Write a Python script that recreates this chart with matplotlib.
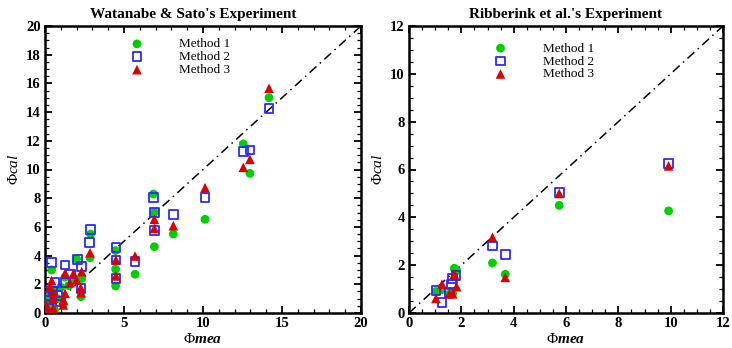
import matplotlib
matplotlib.use("Agg")
import matplotlib.pyplot as plt
from matplotlib.ticker import MultipleLocator

plt.rcParams['font.family'] = ['Liberation Serif', 'DejaVu Serif']
plt.rcParams['mathtext.fontset'] = 'custom'
plt.rcParams['mathtext.rm'] = 'Liberation Serif'
plt.rcParams['mathtext.it'] = 'Liberation Serif:italic'
plt.rcParams['mathtext.bf'] = 'Liberation Serif:bold'
plt.rcParams['mathtext.bfit'] = 'Liberation Serif:bold:italic'

# ---------------- Data: Watanabe & Sato ----------------
ws_m1_x = [0.1, 0.2, 0.3, 0.35, 0.42, 0.5, 0.6, 0.8, 1.0, 1.16, 1.27, 1.5, 1.8, 2.0, 2.28, 2.32,
           2.85, 2.89, 4.47, 4.47, 4.47, 5.7, 6.86, 6.92, 6.92, 8.12, 10.13, 12.55, 12.97, 14.18]
ws_m1_y = [0.3, 0.8, 1.2, 0.5, 3.0, 1.6, 0.2, 1.0, 1.8, 0.6, 2.5, 1.9, 2.3, 3.76, 1.14, 2.4,
           3.85, 5.5, 4.35, 3.05, 1.88, 2.7, 8.29, 7.0, 4.62, 5.5, 6.53, 11.78, 9.73, 15.0]

ws_m2_x = [0.1, 0.1, 0.2, 0.3, 0.42, 0.63, 0.5, 0.8, 1.27, 1.27, 1.0, 1.62, 2.05, 2.32, 2.28,
           2.8, 2.89, 4.49, 4.49, 4.49, 5.7, 6.86, 6.92, 6.92, 8.12, 10.13, 12.55, 12.97, 14.18]
ws_m2_y = [1.48, 1.14, 0.6, 0.9, 3.53, 2.1, 1.5, 1.2, 3.35, 2.11, 0.8, 2.72, 3.74, 3.23, 1.72,
           4.9, 5.83, 4.58, 3.69, 2.42, 3.6, 8.06, 6.99, 5.74, 6.88, 8.06, 11.24, 11.36, 14.26]

ws_m3_x = [0.1, 0.21, 0.42, 0.53, 0.53, 0.53, 0.3, 1.16, 1.16, 1.27, 1.27, 1.58, 1.8, 2.0, 2.26,
           2.28, 2.32, 2.85, 4.49, 4.49, 5.7, 6.92, 6.92, 8.12, 10.13, 12.55, 12.97, 14.18]
ws_m3_y = [0.5, 0.2, 2.25, 1.41, 1.02, 0.33, 1.8, 0.9, 0.56, 2.77, 1.37, 2.1, 2.75, 2.3, 1.76,
           1.41, 2.88, 4.2, 3.7, 2.58, 3.97, 6.53, 5.9, 6.08, 8.73, 10.15, 10.71, 15.66]

# ---------------- Data: Ribberink et al. ----------------
rb_m1_x = [1.03, 1.26, 1.54, 1.67, 1.73, 1.82, 3.19, 3.68, 5.74, 9.92]
rb_m1_y = [0.9, 0.98, 0.78, 0.82, 1.87, 1.77, 2.09, 1.62, 4.5, 4.27]
rb_m2_x = [1.03, 1.26, 1.54, 1.63, 1.67, 1.8, 3.19, 3.68, 5.74, 9.92]
rb_m2_y = [0.93, 0.43, 0.85, 1.2, 1.44, 1.58, 2.8, 2.45, 5.05, 6.26]
rb_m3_x = [1.03, 1.26, 1.54, 1.67, 1.73, 1.82, 3.19, 3.68, 5.74, 9.92]
rb_m3_y = [0.61, 1.21, 0.8, 0.8, 1.62, 1.1, 3.17, 1.49, 5.0, 6.15]

titles = ["Watanabe & Sato's Experiment", "Ribberink et al.'s Experiment"]
labels = ["Method 1", "Method 2", "Method 3"]

GREEN = "#00d000"
BLUE = "#2a2aff"
RED = "#dd0000"

fig = plt.figure(figsize=(7.32, 3.48), dpi=100)
W, H = 732, 348
ax1 = fig.add_axes([45 / W, 1 - 313 / H, (361 - 45) / W, (313 - 26) / H])
ax2 = fig.add_axes([409 / W, 1 - 313 / H, (723 - 409) / W, (313 - 26) / H])


def style(ax, lim, xmaj, xmin, ymaj, ymin):
    ax.set_xlim(0, lim)
    ax.set_ylim(0, lim)
    ax.xaxis.set_major_locator(MultipleLocator(xmaj))
    ax.xaxis.set_minor_locator(MultipleLocator(xmin))
    ax.yaxis.set_major_locator(MultipleLocator(ymaj))
    ax.yaxis.set_minor_locator(MultipleLocator(ymin))
    ax.tick_params(which='both', direction='in', top=True, right=True)
    ax.tick_params(which='major', length=5, width=1.3, labelsize=10.5, pad=3)
    ax.tick_params(which='minor', length=3, width=0.9)
    for s in ax.spines.values():
        s.set_linewidth(1.8)
    for lab in ax.get_xticklabels() + ax.get_yticklabels():
        lab.set_fontweight('bold')
    ax.set_xlabel(r'$\mathrm{Φ}\mathbfit{mea}$', fontsize=11, labelpad=1)
    ax.set_ylabel(r'$\mathrm{Φ}\mathit{cal}$', fontsize=11, labelpad=4)


def draw(ax, m1x, m1y, m2x, m2y, m3x, m3y, lim):
    ax.plot([0, lim], [0, lim], color='black', lw=1.1, linestyle=(0, (6, 3, 1, 3)), zorder=1)
    ax.scatter(m1x, m1y, s=40, marker='o', color=GREEN, edgecolors='none', zorder=3, label=labels[0])
    ax.scatter(m2x, m2y, s=40, marker='s', facecolors='none', edgecolors=BLUE, linewidths=1.3,
               zorder=4, label=labels[1])
    ax.scatter(m3x, m3y, s=48, marker='^', color=RED, edgecolors='none', zorder=5, label=labels[2])


draw(ax1, ws_m1_x, ws_m1_y, ws_m2_x, ws_m2_y, ws_m3_x, ws_m3_y, 20)
draw(ax2, rb_m1_x, rb_m1_y, rb_m2_x, rb_m2_y, rb_m3_x, rb_m3_y, 12)
style(ax1, 20, 5, 1, 2, 0.5)
style(ax2, 12, 2, 0.5, 2, 0.5)

ax1.set_title(titles[0], fontsize=11, fontweight='bold', pad=6, x=0.47)
ax2.set_title(titles[1], fontsize=11, fontweight='bold', pad=6)

ax1.legend(loc='upper left', bbox_to_anchor=(0.22, 0.99), frameon=False, fontsize=9.5,
           handletextpad=2.2, labelspacing=0.05, borderpad=0.2)
ax2.legend(loc='upper left', bbox_to_anchor=(0.22, 0.975), frameon=False, fontsize=9.5,
           handletextpad=2.2, labelspacing=0.05, borderpad=0.2)

fig.savefig("out.png", dpi=100)
